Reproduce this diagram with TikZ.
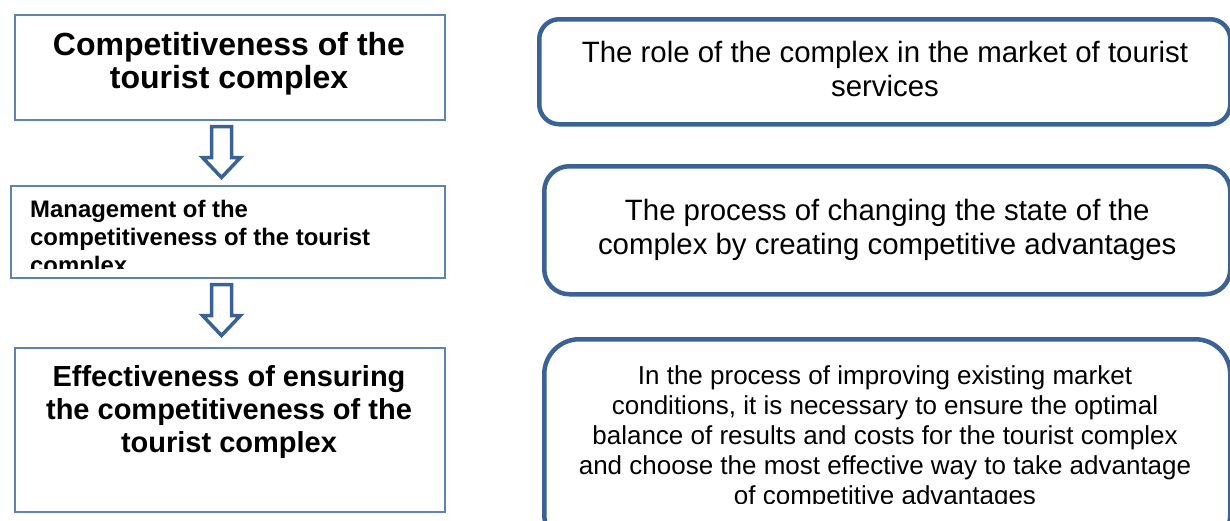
\documentclass[tikz,border=0pt]{standalone}
\usepackage{fontspec}
\setmainfont{Liberation Sans}
\definecolor{bordblue}{RGB}{58,98,148}
\definecolor{thinblue}{RGB}{95,130,180}
\tikzset{
  leftbox/.style={draw=thinblue, line width=1.5pt, fill=white, anchor=north west, inner sep=0pt},
  rbox/.style={draw=bordblue, line width=4.5pt, fill=white, anchor=north west, inner sep=0pt, align=center},
  arrowline/.style={draw=bordblue, line width=3.5pt, fill=white, line join=miter},
  blockdown/.pic={\draw[arrowline] (-10,0) -- (-10,31) -- (-19,31) -- (0,51) -- (19,31) -- (10,31) -- (10,0) -- cycle;},
  bigbold/.style={font=\fontsize{32}{33}\selectfont\bfseries, align=center},
  midbold/.style={font=\fontsize{29}{33}\selectfont\bfseries, align=center},
  smallbold/.style={font=\fontsize{23.9}{28}\selectfont\bfseries, align=left},
  rtext/.style={font=\fontsize{29.4}{34}\selectfont},
  rsmall/.style={font=\fontsize{26}{30}\selectfont, align=center}
}
\begin{document}
\begin{tikzpicture}[x=1pt,y=-1pt]
\useasboundingbox (0,0) rectangle (1230,520);
\fill[white] (0,0) rectangle (1230,520);
% left column
\node[leftbox, minimum width=430pt, minimum height=105pt] (b1) at (14,14) {};
\node[bigbold, anchor=base, inner sep=0pt] (b1t) at (229,88) {Competitiveness of the\\tourist complex};
\node[leftbox, minimum width=434pt, minimum height=92pt] (b2) at (10,185) {};
\begin{scope}
\clip (11,186) rectangle (443,268);
\node[smallbold, anchor=base west, inner sep=0pt] (b2t) at (30,273) {Management of the\\competitiveness of the tourist\\complex};
\end{scope}
\node[leftbox, minimum width=430pt, minimum height=164pt] (b3) at (14,347) {};
\node[midbold, anchor=base, inner sep=0pt] (b3t) at (229,452) {Effectiveness of ensuring\\the competitiveness of the\\tourist complex};
% arrows
\pic at (221.5,126.5) {blockdown};
\pic at (221.5,284.5) {blockdown};
% right column
\node[rbox, rounded corners=20pt, minimum width=691pt, minimum height=105pt] (r1) at (537,17) {};
\node[rtext, align=center, anchor=base, inner sep=0pt] (r1t) at (885,96) {The role of the complex in the market of tourist\\services};
\node[rbox, rounded corners=25pt, minimum width=686pt, minimum height=128pt, rtext] (r2) at (542,164) {The process of changing the state of the\\complex by creating competitive advantages};
\node[rbox, rounded corners=35pt, minimum width=686pt, minimum height=210pt] (r3) at (542,337) {};
\begin{scope}
\clip (545,340) rectangle (1225,503);
\node[rsmall, anchor=base, inner sep=0pt] (r3t) at (885,504) {In the process of improving existing market\\conditions, it is necessary to ensure the optimal\\balance of results and costs for the tourist complex\\and choose the most effective way to take advantage\\of competitive advantages};
\end{scope}
\end{tikzpicture}
\end{document}
